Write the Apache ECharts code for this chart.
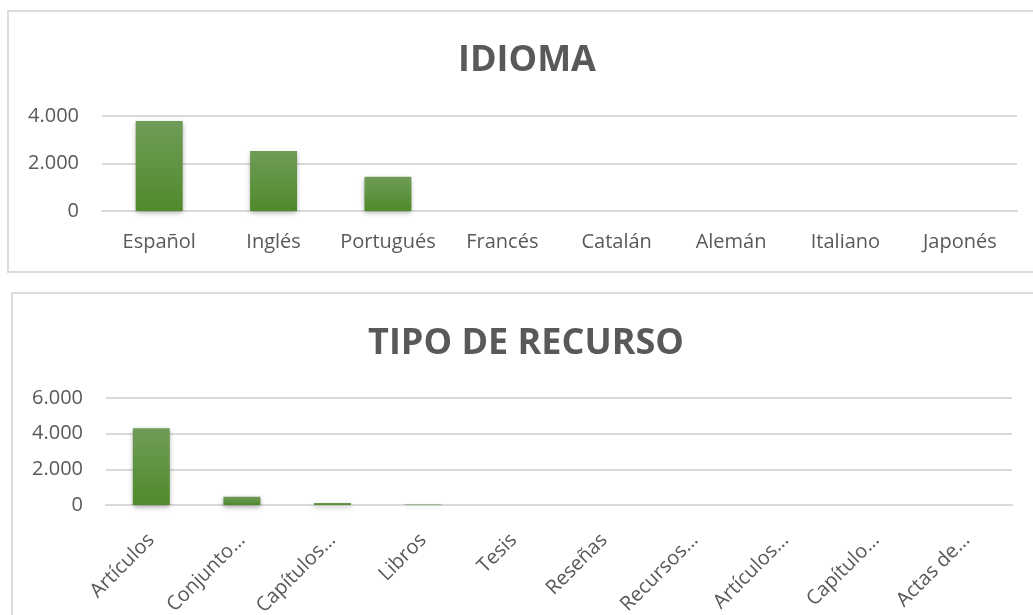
<!DOCTYPE html>
<html>
<head>
<meta charset="utf-8">
<script src="https://cdn.jsdelivr.net/npm/echarts@6/dist/echarts.min.js"></script>
<style>
  body { margin: 0; background: #fff; width: 1033px; height: 615px; overflow: hidden; position: relative; }
  .box { position: absolute; box-sizing: border-box; border: 2px solid #dcdcdc; background: #fff; }
</style>
</head>
<body>
<div class="box" id="idioma" style="left: 7px; top: 10px; width: 1040px; height: 263px;"></div>
<div class="box" id="tipo" style="left: 11px; top: 292px; width: 1030px; height: 340px;"></div>
<script>
  // IDIOMA
  var idiomaCats = ['Español', 'Inglés', 'Portugués', 'Francés', 'Catalán', 'Alemán', 'Italiano', 'Japonés'];
  var idiomaValues = [3790, 2530, 1440, 4, 3, 2, 1, 1];
  var idiomaTicks = [0, 2000, 4000];

  // TIPO DE RECURSO
  var tipoCats = ['Artículos', 'Conjunto…', 'Capítulos…', 'Libros', 'Tesis', 'Reseñas', 'Recursos…', 'Artículos…', 'Capítulo…', 'Actas de…'];
  var tipoValues = [4300, 460, 110, 30, 3, 2, 1, 1, 1, 1];
  var tipoTicks = [0, 2000, 4000, 6000];

  var textColor = '#595959';
  var font = '"Open Sans", "DejaVu Sans", sans-serif';

  function fmt(v) {
    return String(v).replace(/\B(?=(\d{3})+(?!\d))/g, '.');
  }

  var barStyle = {
    color: {
      type: 'linear', x: 0, y: 0, x2: 0, y2: 1,
      colorStops: [{offset: 0, color: '#6f9c58'}, {offset: 1, color: '#508a2b'}]
    },
    shadowBlur: 5,
    shadowColor: 'rgba(0,0,0,0.35)',
    shadowOffsetY: 2
  };

  function makeOption(title, cats, values, ticks, grid, barWidth, rotate, labelMargin) {
    return {
      animation: false,
      title: {
        text: title,
        left: 'center',
        top: grid.titleTop,
        textStyle: {fontFamily: font, fontSize: 36, fontWeight: 'bold', color: textColor}
      },
      grid: {left: grid.left, right: grid.right, top: grid.top, bottom: grid.bottom},
      xAxis: {
        type: 'category',
        data: cats,
        axisLine: {show: true, lineStyle: {color: '#d9d9d9', width: 2}},
        axisTick: {show: false},
        axisLabel: {
          color: textColor, fontFamily: font, fontSize: 20, interval: 0,
          rotate: rotate, margin: labelMargin
        }
      },
      yAxis: {
        type: 'value',
        min: ticks[0],
        max: ticks[ticks.length - 1],
        interval: ticks[1] - ticks[0],
        axisLine: {show: false},
        axisTick: {show: false},
        splitLine: {lineStyle: {color: '#d9d9d9', width: 2}},
        axisLabel: {color: textColor, fontFamily: font, fontSize: 20, margin: 23, formatter: fmt}
      },
      series: [{
        type: 'bar',
        data: values,
        barWidth: barWidth,
        itemStyle: barStyle
      }]
    };
  }

  var chart1 = echarts.init(document.getElementById('idioma'));
  chart1.setOption(makeOption('IDIOMA', idiomaCats, idiomaValues, idiomaTicks,
    {left: 93, right: 28, top: 104, bottom: 60, titleTop: 26}, 47, 0, 21));

  var chart2 = echarts.init(document.getElementById('tipo'));
  chart2.setOption(makeOption('TIPO DE RECURSO', tipoCats, tipoValues, tipoTicks,
    {left: 93, right: 27, top: 104, bottom: 125, titleTop: 27}, 37, 45, 32));
</script>
</body>
</html>
